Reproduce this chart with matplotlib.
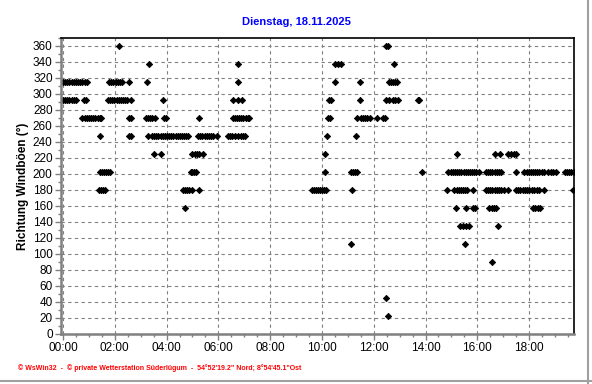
import numpy as np
import matplotlib
matplotlib.use('Agg')
from matplotlib import pyplot as plt
from matplotlib.ticker import MultipleLocator
from matplotlib.lines import Line2D

plt.rcParams['font.family'] = ['Liberation Sans', 'DejaVu Sans']

# Böenrichtung, Zeitpunkte in Minuten seit 00:00 je Himmelsrichtung
d360 = [130, 748, 754]
d337 = [200, 405, 630, 637, 644, 768]
d315 = [0, 5, 10, 15, 20, 25, 30, 35, 40, 45, 50, 55,
        107, 112, 117, 122, 127, 132, 137, 154, 195, 406, 631, 689,
        755, 760, 765, 770, 775]
d292 = [0, 5, 10, 15, 20, 25, 30, 49, 53,
        104, 109, 114, 119, 124, 129, 134, 139, 144, 149, 158, 232,
        395, 405, 415, 617, 621, 689, 748, 756, 765, 770, 776, 822, 826]
d270 = [45, 50, 55, 60, 65, 70, 75, 80, 85, 89, 153, 157,
        192, 197, 202, 207, 213, 234, 238, 316,
        393, 398, 403, 408, 413, 418, 423, 428, 432,
        614, 618, 681, 690, 695, 700, 705, 711, 728, 742, 746]
d247 = [86, 154, 158, 198,
        206, 211, 216, 221, 226, 231, 236, 241, 246, 251, 256, 261, 266,
        271, 276, 281, 286, 290,
        313, 318, 323, 328, 333, 338, 343, 347, 358,
        382, 387, 392, 398, 405, 412, 417, 422, 611, 679]
d225 = [211, 226, 300, 305, 310, 316, 324, 608,
        913, 1001, 1013, 1032, 1038, 1044, 1050]
d202 = [85, 90, 95, 100, 105, 110, 296, 300, 304, 308, 608,
        667, 672, 677, 681, 832,
        893, 898, 903, 908, 913, 918, 923, 928, 933, 938, 943, 948, 953,
        958, 965,
        980, 985, 990, 995, 1000, 1005, 1010, 1015, 1050,
        1069, 1074, 1079, 1084, 1089, 1094, 1099, 1104, 1109, 1114,
        1124, 1130, 1136, 1142, 1163, 1168, 1173, 1178, 1183]
d180 = [83, 88, 93, 97, 278, 283, 288, 293, 300, 316,
        576, 581, 586, 591, 596, 601, 605, 609, 670,
        890, 907, 912, 917, 922, 927, 932, 936, 951,
        980, 985, 990, 995, 1000, 1005, 1010, 1016, 1022, 1032,
        1050, 1055, 1060, 1065, 1070, 1075, 1080, 1086, 1092, 1098, 1104,
        1115, 1181]
d157 = [283, 911, 934, 950, 954, 988, 993, 998, 1003,
        1088, 1094, 1100, 1106]
d135 = [920, 927, 934, 941, 1007]
d112 = [668, 931]
d90 = [994]
d45 = [748]
d22 = [753]

richtungen = [(360, d360), (337.5, d337), (315, d315), (292.5, d292),
              (270, d270), (247.5, d247), (225, d225), (202.5, d202),
              (180, d180), (157.5, d157), (135, d135), (112.5, d112),
              (90, d90), (45, d45), (22.5, d22)]

fig = plt.figure(figsize=(5.92, 3.84), dpi=100)
ax = fig.add_axes([61 / 592, 1 - 334 / 384, 513 / 592, 296 / 384])

for r, zeiten in richtungen:
    ax.plot(zeiten, [r] * len(zeiten), linestyle='none', marker='D',
            markersize=3.2, color='black', markeredgewidth=0.6)

ax.set_xlim(-4.6, 1184)
ax.set_ylim(0, 370)
ax.xaxis.set_minor_locator(MultipleLocator(30))
ax.yaxis.set_minor_locator(MultipleLocator(10))
ax.set_xticks(np.arange(0, 1081, 120))
ax.set_xticklabels(['%02d:00' % h for h in range(0, 19, 2)], fontsize=8.5)
ax.set_yticks(np.arange(0, 361, 20))
ax.set_yticklabels([str(v) for v in range(0, 361, 20)], fontsize=8.5)

ax.grid(True, which='major', color='#808080', linestyle=(0, (3, 3)), linewidth=0.8)
ax.tick_params(which='major', length=4, width=1, color='#808080', pad=2)
ax.tick_params(which='minor', length=2, width=1, color='#808080')

for s in ['left', 'bottom']:
    ax.spines[s].set_color('#808080')
    ax.spines[s].set_linewidth(1.8)
for s in ['top', 'right']:
    ax.spines[s].set_color('black')
    ax.spines[s].set_linewidth(1.2)

ax.set_ylabel('Richtung Windböen (°)', fontsize=8.5, fontweight='bold', labelpad=3)

fig.text(0.5, 1 - 22 / 384, 'Dienstag, 18.11.2025', color='#0000ff', fontsize=8,
         fontweight='bold', ha='center', va='center')
fig.text(18 / 592, 1 - 368 / 384,
         '© WsWin32  -  © private Wetterstation Süderlügum  -  54°52\'19.2" Nord; 8°54\'45.1"Ost',
         color='#ff0000', fontsize=5, fontweight='bold', ha='left', va='center')

# grauer Rahmen rechts/unten
fig.add_artist(Line2D([588 / 592, 588 / 592], [0, 1], color='#a0a0a0', linewidth=1.5))
fig.add_artist(Line2D([0, 1], [1 - 381 / 384, 1 - 381 / 384], color='#a0a0a0', linewidth=1.5))

fig.savefig('out.png', dpi=100)
